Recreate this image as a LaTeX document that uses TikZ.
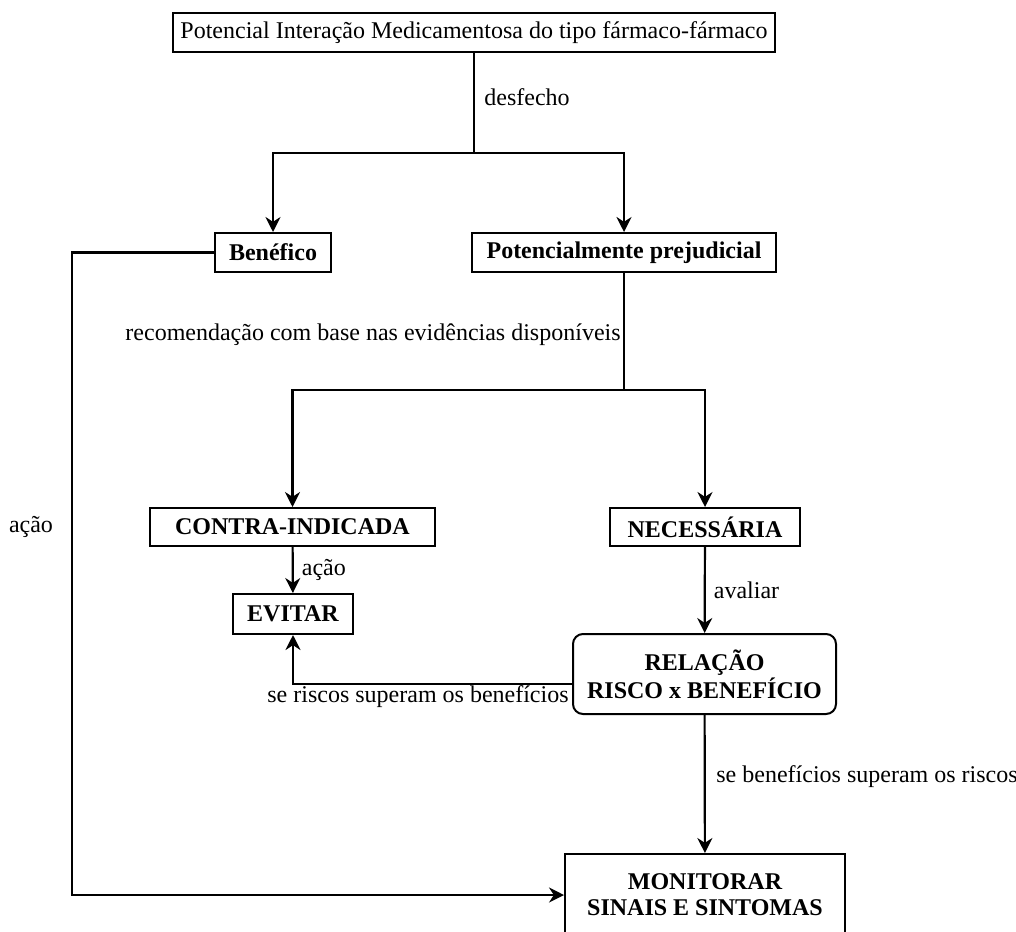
\documentclass[tikz,border=0pt]{standalone}
\usepackage{fontspec}
\setmainfont{Liberation Serif}
\usetikzlibrary{arrows.meta}
\tikzstyle{line} = [draw, -{Stealth[length=7.5pt, width=7.5pt]}, line width=1.1pt]
\tikzstyle{plain} = [draw, line width=1.1pt]
\tikzstyle{box} = [draw, line width=1pt, inner sep=0pt, align=center]
\tikzstyle{bbox} = [box, font=\bfseries]
\tikzstyle{lbl} = [inner sep=4pt]

\begin{document}
\begin{tikzpicture}[x=0.5pt, y=-0.5pt]
        \fontsize{12}{14}\selectfont
        \useasboundingbox (0,0) rectangle (1016,931);

        \node[box, minimum width=301pt, minimum height=19.5pt] (interacao) at (474,32.5) {Potencial Interação Medicamentosa do tipo fármaco-fármaco};

        \node[bbox, minimum width=58pt, minimum height=19.5pt] (benefico) at (273,252.5) {Benéfico};
        \node[bbox, minimum width=152pt, minimum height=19.5pt] (prejudicial) at (624,252.5) {Potencialmente prejudicial};

        \node[bbox, minimum width=142.5pt, minimum height=19pt] (contra) at (292.5,527) {CONTRA-INDICADA};
        \node[bbox, minimum width=95pt, minimum height=19pt] (necessaria) at (705,527) {NECESSÁRIA};

        \node[bbox, minimum width=60pt, minimum height=20pt] (evitar) at (293,614) {EVITAR};
        \node[bbox, rounded corners=5pt, minimum width=131.5pt, minimum height=40pt] (relacao) at (704.5,674) {RELAÇÃO\\RISCO x BENEFÍCIO};
        \node[bbox, minimum width=140pt, minimum height=41pt] (monitorar) at (705,895) {MONITORAR\\[-1pt]SINAIS E SINTOMAS};

        \coordinate (fork1) at (474,153);
        \coordinate (fork2) at (624,390);
        \coordinate (cornerA) at (72,895);

        \path[plain] (interacao) -- (fork1);
        \path[line] (fork1) -| (benefico);
        \path[line] (fork1) -| (prejudicial);
        \node[lbl, anchor=west] (desfecho) at (476,97) {desfecho};

        \path[plain] (prejudicial) -- (fork2);
        \path[line] (fork2) -| (contra);
        \path[line] (fork2) -| (necessaria);
        \node[lbl, anchor=east] (recomendacao) at (629,335) {recomendação com base nas evidências disponíveis};

        \path[line] (benefico.west) -| (cornerA) -- (monitorar.west);
        \node[lbl] (acaoesq) at (31,527) {ação};

        \path[line] (contra) -- node[lbl, right] (acao) {ação} (evitar);
        \path[line] (necessaria) -- node[lbl, right] (avaliar) {avaliar} (relacao);

        \path[line] ([yshift=-5pt]relacao.west) -| (evitar);
        \node[lbl] (riscos) at (418,697) {se riscos superam os benefícios};

        \path[line] (relacao) -- (monitorar);
        \node[lbl, anchor=west] (beneficios) at (708,777) {se benefícios superam os riscos};
    \end{tikzpicture}
\end{document}
